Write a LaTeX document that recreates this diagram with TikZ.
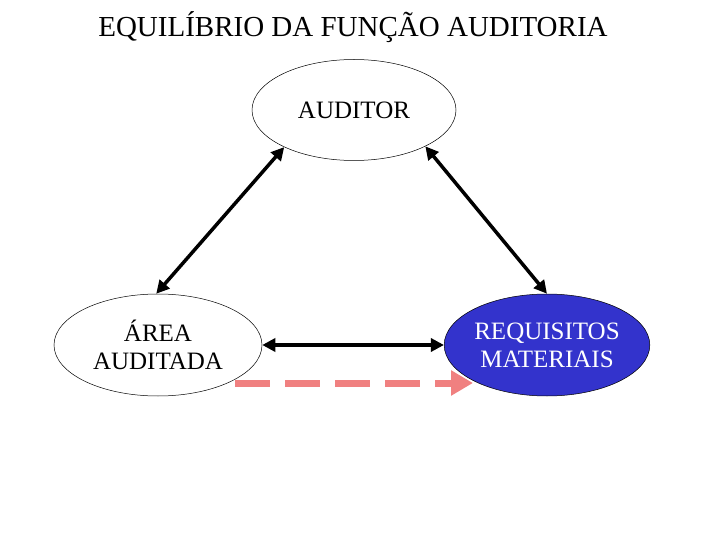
\documentclass[tikz,border=0pt]{standalone}
\usepackage{fontspec}
\setmainfont{Liberation Serif}
\usetikzlibrary{shapes.geometric, arrows.meta}
\definecolor{reqblue}{RGB}{51,51,204}
\definecolor{linkpink}{RGB}{240,128,128}
\tikzset{
  bubble/.style={
    ellipse, draw=black, line width=0.5pt, inner sep=0pt,
    align=center, font=\fontsize{25}{28}\selectfont
  },
  twoway/.style={
    line width=3.5pt, {Triangle[length=13pt,width=13pt]}-{Triangle[length=13pt,width=13pt]}
  },
  pinkdash/.style={
    draw=linkpink, line width=7pt, dash pattern=on 35pt off 15pt,
    -{Triangle[length=22pt,width=24pt]}
  }
}

\begin{document}
\begin{tikzpicture}[x=1pt, y=-1pt]
    \useasboundingbox (0,0) rectangle (720,540);

    % Title
    \node[font=\fontsize{29}{34}\selectfont] (title) at (353,27) {EQUILÍBRIO DA FUNÇÃO AUDITORIA};

    % Three ellipses of the triangle
    \node[bubble, minimum width=204pt, minimum height=101pt] (aud) at (354,110) {AUDITOR};
    \node[bubble, minimum width=208pt, minimum height=102pt] (area) at (158,345) {ÁREA\\AUDITADA};
    \node[bubble, fill=reqblue, text=white, minimum width=203pt, minimum height=102pt] (req) at (547,345) {REQUISITOS\\MATERIAIS};

    % Two-way links
    \draw[twoway] (aud.208) -- (area.92);
    \draw[twoway] (aud.333) -- (req.90);
    \draw[twoway] (area.east) -- (req.west);

    % Dashed pink arrow under the bottom link
    \coordinate (dashstart) at (235,383);
    \coordinate (dashend) at (473,383);
    \draw[pinkdash] (dashstart) -- (dashend);

\end{tikzpicture}
\end{document}
